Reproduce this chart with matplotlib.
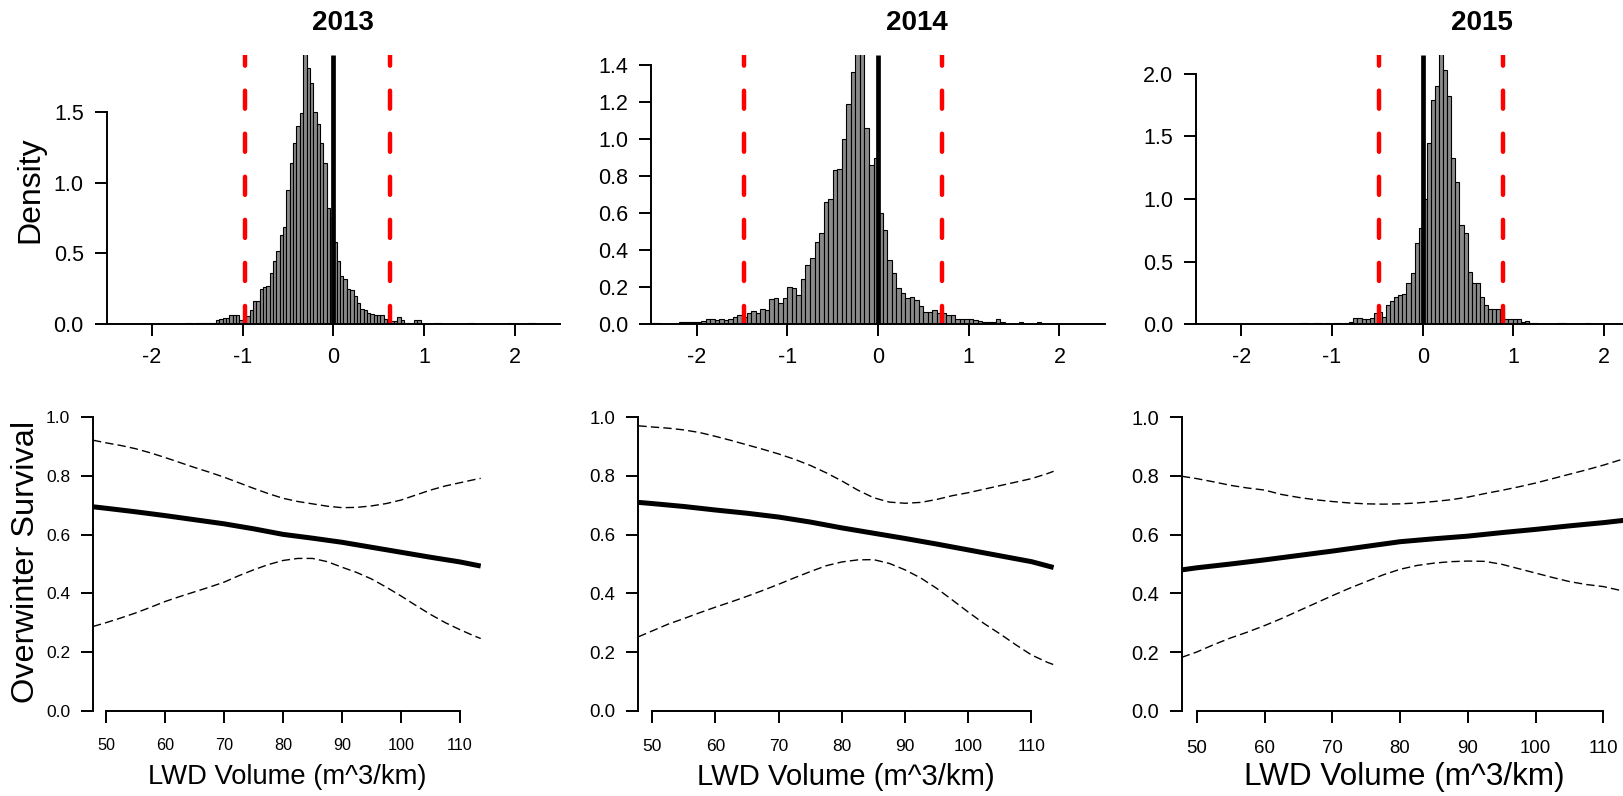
import matplotlib
matplotlib.use("Agg")
import matplotlib.pyplot as plt
import numpy as np

plt.rcParams['font.family'] = ['Liberation Sans', 'DejaVu Sans']
plt.rcParams['lines.scale_dashes'] = False

W, H = 1624, 796

years = ['2013', '2014', '2015']

# --- posterior histograms (density per bin) ---
bin_start = [-1.6285, -2.5, -1.35]
bin_width = [0.037, 0.05, 0.045]
dens_2013 = [0.012, 0.012, 0.0, 0.006, 0.012, 0.012, 0.012, 0.012, 0.012, 0.03,
             0.035, 0.045, 0.045, 0.065, 0.065, 0.065, 0.03, 0.04, 0.06, 0.10,
             0.165, 0.165, 0.25, 0.26, 0.27, 0.36, 0.45, 0.52, 0.63, 0.69,
             0.95, 1.14, 1.28, 1.40, 1.49, 1.95, 1.81, 1.70, 1.50, 1.41,
             1.28, 1.14, 0.82, 0.75, 0.58, 0.45, 0.34, 0.32, 0.25, 0.24,
             0.20, 0.15, 0.11, 0.10, 0.08, 0.07, 0.066, 0.066, 0.066, 0.04,
             0.025, 0.025, 0.02, 0.054, 0.03, 0.012, 0.012, 0.012, 0.03, 0.03,
             0, 0, 0, 0, 0.012, 0.012, 0, 0, 0, 0,
             0, 0, 0, 0, 0.012, 0.012, 0, 0, 0, 0,
             0, 0, 0, 0, 0, 0, 0.012, 0, 0, 0,
             0, 0, 0.012, 0.012]
dens_2014 = [0.006, 0.006, 0, 0, 0, 0, 0.012, 0.012, 0.012, 0.012,
             0.012, 0.02, 0.03, 0.03, 0.025, 0.03, 0.025, 0.03, 0.04, 0.05,
             0.04, 0.063, 0.07, 0.06, 0.08, 0.077, 0.135, 0.14, 0.113, 0.14,
             0.20, 0.194, 0.158, 0.245, 0.32, 0.356, 0.446, 0.495, 0.662, 0.675,
             0.833, 0.84, 1.0, 1.19, 1.36, 1.5, 1.5, 1.06, 0.86, 0.9,
             0.60, 0.51, 0.347, 0.275, 0.194, 0.167, 0.14, 0.15, 0.13, 0.10,
             0.068, 0.068, 0.077, 0.06, 0.06, 0.05, 0.05, 0.03, 0.03, 0.027,
             0.03, 0.023, 0.02, 0.012, 0.012, 0.012, 0.03, 0.012, 0, 0,
             0, 0.012, 0, 0, 0, 0.012]
dens_2015 = [0.013, 0.013, 0, 0.013, 0.013, 0, 0.013, 0, 0.013, 0.013,
             0, 0.013, 0.02, 0.05, 0.05, 0.04, 0.04, 0.05, 0.09, 0.10,
             0.06, 0.155, 0.19, 0.22, 0.23, 0.24, 0.33, 0.41, 0.65, 0.77,
             1.0, 1.45, 1.79, 1.90, 2.2, 2.03, 1.82, 1.33, 1.14, 0.79,
             0.73, 0.42, 0.33, 0.33, 0.22, 0.155, 0.12, 0.12, 0.12, 0.12,
             0.04, 0.045, 0.045, 0.045, 0.02, 0.03, 0.013, 0.013, 0, 0,
             0, 0, 0, 0.013, 0.013, 0, 0, 0, 0, 0,
             0.013]
dens_all = [dens_2013, dens_2014, dens_2015]
ci_low = [-0.98, -1.48, -0.478]
ci_high = [0.62, 0.705, 0.889]
dens_top = [1.90, 1.454, 2.15]
dens_ticks = [[0, 0.5, 1.0, 1.5],
              [0, 0.2, 0.4, 0.6, 0.8, 1.0, 1.2, 1.4],
              [0, 0.5, 1.0, 1.5, 2.0]]
hist_xticks = [-2, -1, 0, 1, 2]

# --- survival vs LWD volume ---
lwd = [47.8, 50, 55, 60, 65, 70, 75, 80, 85, 90, 95, 100, 105, 110, 113.5]
fit_2013 = [.695, .690, .678, .665, .651, .637, .620, .601, .588, .574, .557, .540, .523, .507, .493]
fit_2014 = [.710, .706, .696, .684, .673, .660, .643, .623, .605, .587, .568, .548, .528, .508, .488]
fit_2015 = [.480, .487, .500, .514, .529, .544, .560, .576, .586, .595, .607, .618, .630, .641, .650]

lwd_ci = [47.8, 50, 52.5, 55, 57.5, 60, 62.5, 65, 67.5, 70, 72.5, 75, 77.5, 80,
          82.5, 85, 87.5, 90, 92.5, 95, 97.5, 100, 102.5, 105, 107.5, 110, 112.5, 113.5]
up_2013 = [.922, .913, .904, .893, .879, .863, .846, .829, .813, .796, .777, .758, .740, .724,
           .713, .705, .697, .692, .693, .698, .706, .718, .735, .752, .766, .777, .788, .792]
lo_2013 = [.287, .300, .316, .333, .352, .372, .389, .405, .421, .438, .460, .480, .498, .512,
           .519, .519, .508, .489, .471, .449, .421, .391, .359, .328, .300, .276, .254, .246]
up_2014 = [.971, .967, .963, .957, .948, .935, .921, .906, .891, .875, .857, .836, .811, .783,
           .752, .726, .711, .707, .710, .720, .733, .743, .755, .767, .779, .791, .808, .816]
lo_2014 = [.252, .272, .295, .314, .334, .353, .371, .390, .410, .431, .453, .474, .494, .507,
           .514, .515, .502, .480, .452, .417, .377, .336, .297, .262, .225, .190, .165, .157]
up_2015 = [.799, .791, .780, .768, .759, .752, .737, .727, .719, .713, .708, .705, .704, .705,
           .708, .713, .719, .728, .740, .751, .763, .776, .791, .806, .821, .837, .855, .862]
lo_2015 = [.182, .200, .225, .248, .268, .290, .314, .340, .366, .392, .417, .440, .463, .482,
           .495, .503, .508, .510, .509, .499, .484, .469, .454, .440, .430, .423, .410, .404]
fits = [fit_2013, fit_2014, fit_2015]
ups = [up_2013, up_2014, up_2015]
los = [lo_2013, lo_2014, lo_2015]
surv_ticks = [0, 0.2, 0.4, 0.6, 0.8, 1.0]
lwd_ticks = [50, 60, 70, 80, 90, 100, 110]

fig = plt.figure(figsize=(W / 100, H / 100), dpi=100)


def px_axes(left, top, right, bottom):
    return fig.add_axes([left / W, 1 - bottom / H, (right - left) / W, (bottom - top) / H])


def style(ax, fs):
    for s in ['top', 'right']:
        ax.spines[s].set_visible(False)
    for s in ['left', 'bottom']:
        ax.spines[s].set_linewidth(1.4)
    ax.tick_params(direction='out', length=8.5, width=1.4, pad=8, labelsize=fs)


hist_left = [106.7, 651.3, 1196.0]
for i in range(3):
    ax = px_axes(hist_left[i], 55, hist_left[i] + 453.5, 324.3)
    d = np.array(dens_all[i])
    centers = bin_start[i] + bin_width[i] * (np.arange(len(d)) + 0.5)
    ax.bar(centers, d, width=bin_width[i], color='#8a8a8a', edgecolor='black', linewidth=0.8)
    top = dens_top[i]
    for xv in (ci_low[i], ci_high[i]):
        ax.plot([xv, xv], [0, top], color='red', lw=3.2, dashes=(13, 18), dash_capstyle='round')
    ax.plot([0, 0], [0, top], color='black', lw=3.4, solid_capstyle='butt')
    ax.set_xlim(-2.5, 2.5)
    ax.set_ylim(0, top)
    ax.set_xticks(hist_xticks)
    ax.set_xticklabels(['-2', '-1', '0', '1', '2'])
    ax.set_yticks(dens_ticks[i])
    ax.set_yticklabels(['%.1f' % v for v in dens_ticks[i]])
    ax.spines['left'].set_bounds(0, dens_ticks[i][-1])
    style(ax, 15.5)

fig.text(30 / W, 1 - 190 / H, 'Density', rotation=90, ha='center', va='center', fontsize=23)
title_x = [343, 917, 1482]
for i in range(3):
    fig.text(title_x[i] / W, 1 - 23 / H, years[i], ha='center', va='center',
             fontsize=20, fontweight='bold')

# bottom row
surv_box = [(93.0, 480.7), (638.4, 1053.6), (1181.8, 1627.2)]
scale = [1.0, 1.07, 1.15]
for i in range(3):
    l, r = surv_box[i]
    ax = px_axes(l, 417.3, r, 710.7)
    ax.plot(lwd_ci, ups[i], color='black', lw=1.0, dashes=(6, 3))
    ax.plot(lwd_ci, los[i], color='black', lw=1.0, dashes=(6, 3))
    ax.plot(lwd, fits[i], color='black', lw=3.6, solid_capstyle='butt')
    ax.set_xlim(47.8, 113.5)
    ax.set_ylim(0, 1.0)
    ax.set_xticks(lwd_ticks)
    ax.set_yticks(surv_ticks)
    ax.set_yticklabels(['%.1f' % v for v in surv_ticks])
    ax.spines['left'].set_bounds(0, 1.0)
    ax.spines['bottom'].set_bounds(50, 110)
    style(ax, 11.7 * scale[i])
    ax.tick_params(axis='y', labelsize=12.5 * scale[i])
    ax.tick_params(axis='x', pad=11 * scale[i])
    fig.text((l + r) / 2 / W, 1 - 777 / H, 'LWD Volume (m^3/km)', ha='center', va='center',
             fontsize=19.7 * scale[i])

fig.text(26 / W, 1 - 562 / H, 'Overwinter Survival', rotation=90, ha='center', va='center',
         fontsize=23.4)

fig.savefig('out.png', dpi=100)
